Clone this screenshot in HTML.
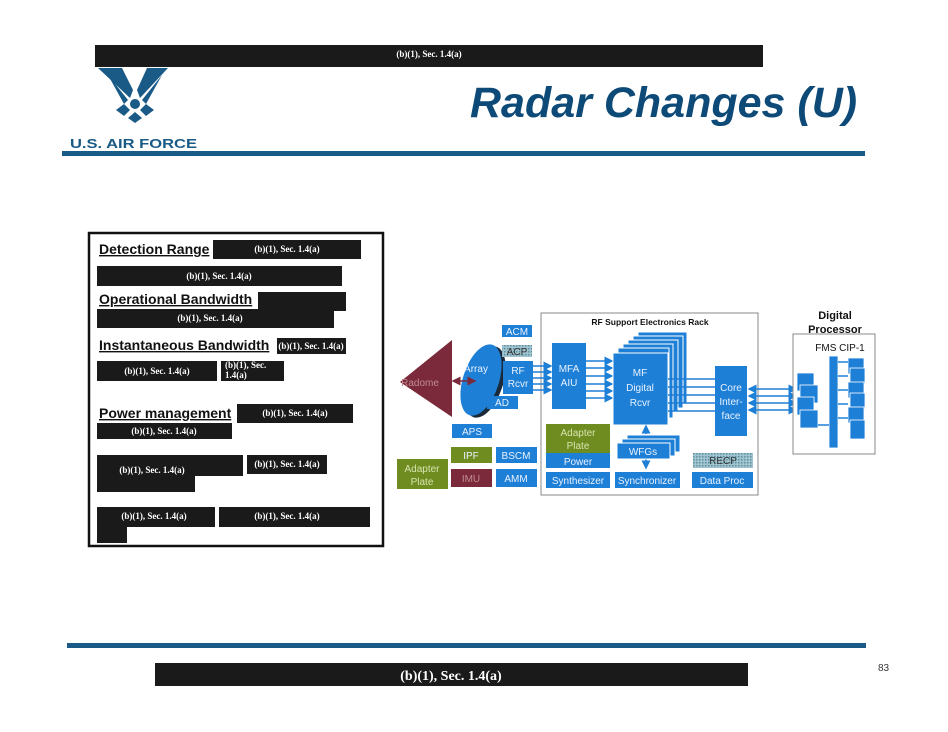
<!DOCTYPE html>
<html><head><meta charset="utf-8"><style>
html,body{margin:0;padding:0;background:#fff;}
svg{display:block;}
.r{font-family:"Liberation Serif",serif;font-weight:bold;fill:#fff;font-size:9px;}
.h{font-family:"Liberation Sans",sans-serif;font-weight:bold;font-size:14px;fill:#111;text-decoration:underline;}
.w{font-family:"Liberation Sans",sans-serif;font-size:10px;fill:#e8f2ff;text-anchor:middle;}
</style></head><body>
<svg width="948" height="732" viewBox="0 0 948 732" xmlns="http://www.w3.org/2000/svg">
<defs>
<pattern id="hat" width="3" height="3" patternUnits="userSpaceOnUse"><rect width="3" height="3" fill="#9fc4cf"/><rect width="1.5" height="1.5" fill="#5f8f9f"/></pattern>
<marker id="ar" markerWidth="6" markerHeight="6" refX="5" refY="3" orient="auto"><path d="M0,0 L6,3 L0,6z" fill="#1e7fd6"/></marker>
<marker id="al" markerWidth="6" markerHeight="6" refX="1" refY="3" orient="auto"><path d="M6,0 L0,3 L6,6z" fill="#1e7fd6"/></marker>
<marker id="mr" markerWidth="6" markerHeight="6" refX="5" refY="3" orient="auto"><path d="M0,0 L6,3 L0,6z" fill="#7a2a3a"/></marker>
<marker id="ml" markerWidth="6" markerHeight="6" refX="1" refY="3" orient="auto"><path d="M6,0 L0,3 L6,6z" fill="#7a2a3a"/></marker>
</defs>
<rect x="95" y="45" width="668" height="22" fill="#1a1a1a"/>
<text x="429" y="57" class="r" text-anchor="middle">(b)(1), Sec. 1.4(a)</text>
<g fill="#1a5a86">
<path d="M98,68 L122,68 L133,90 L130,98 Z"/>
<path d="M168,68 L147,68 L137,90 L140,98 Z"/>
<path d="M108,75 L128,100 L124,104 Z"/>
<path d="M162,75 L142,100 L146,104 Z"/>
<circle cx="135" cy="104" r="5"/>
<path d="M116,110 L124,104 L130,110 L124,116 Z"/>
<path d="M154,110 L146,104 L140,110 L146,116 Z"/>
<path d="M135,112 L142,118 L135,123 L128,118 Z"/>
</g>
<text x="70" y="148" font-family="Liberation Sans,sans-serif" font-weight="bold" font-size="13" fill="#1a5a86" textLength="127" lengthAdjust="spacingAndGlyphs">U.S. AIR FORCE</text>
<text x="470" y="117" font-family="Liberation Sans,sans-serif" font-weight="bold" font-style="italic" font-size="43" fill="#0d4a78">Radar Changes (U)</text>
<rect x="62" y="151" width="803" height="5" fill="#1a5a86"/>
<rect x="89" y="233" width="294" height="313" fill="none" stroke="#111" stroke-width="2.5"/>
<g fill="#1a1a1a">
<rect x="213" y="240" width="148" height="19"/><rect x="97" y="266" width="245" height="20"/>
<rect x="258" y="292" width="88" height="19"/><rect x="97" y="309" width="237" height="19"/>
<rect x="277" y="338" width="69" height="16"/><rect x="97" y="361" width="120" height="20"/><rect x="221" y="361" width="63" height="20"/>
<rect x="237" y="404" width="116" height="19"/><rect x="97" y="423" width="135" height="16"/>
<rect x="97" y="455" width="146" height="21"/><rect x="97" y="455" width="98" height="37"/><rect x="247" y="455" width="80" height="19"/>
<rect x="97" y="507" width="118" height="20"/><rect x="97" y="507" width="30" height="36"/><rect x="219" y="507" width="151" height="20"/>
</g>
<text x="99" y="254" class="h">Detection Range</text>
<text x="99" y="304" class="h">Operational Bandwidth</text>
<text x="99" y="350" class="h">Instantaneous Bandwidth</text>
<text x="99" y="418" class="h">Power management</text>
<g class="r" text-anchor="middle">
<text x="287" y="252">(b)(1), Sec. 1.4(a)</text>
<text x="219" y="279">(b)(1), Sec. 1.4(a)</text>
<text x="210" y="321">(b)(1), Sec. 1.4(a)</text>
<text x="311" y="349">(b)(1), Sec. 1.4(a)</text>
<text x="157" y="374">(b)(1), Sec. 1.4(a)</text>
<text x="225" y="368" text-anchor="start">(b)(1), Sec.</text>
<text x="225" y="378" text-anchor="start">1.4(a)</text>
<text x="295" y="416">(b)(1), Sec. 1.4(a)</text>
<text x="164" y="434">(b)(1), Sec. 1.4(a)</text>
<text x="152" y="473">(b)(1), Sec. 1.4(a)</text>
<text x="287" y="467">(b)(1), Sec. 1.4(a)</text>
<text x="154" y="519">(b)(1), Sec. 1.4(a)</text>
<text x="287" y="519">(b)(1), Sec. 1.4(a)</text>
</g>
<g font-family="Liberation Sans,sans-serif">
<polygon points="400,382 452,340 452,417" fill="#7a2a3a"/>
<text x="420" y="386" font-size="10" fill="#c08a90" text-anchor="middle">Radome</text>
<ellipse cx="485" cy="382" rx="18" ry="37" transform="rotate(18 485 382)" fill="#1a2a3a"/>
<ellipse cx="481" cy="380" rx="18" ry="37" transform="rotate(18 481 380)" fill="#1e7fd6"/>
<text x="476" y="372" class="w">Array</text>
<line x1="453" y1="381" x2="475" y2="381" stroke="#7a2a3a" stroke-width="1.5" marker-start="url(#ml)" marker-end="url(#mr)"/>
<rect x="502" y="325" width="30" height="12" fill="#1e7fd6"/><text x="517" y="335" class="w">ACM</text>
<rect x="502" y="345" width="30" height="12" fill="url(#hat)"/><text x="517" y="355" class="w" style="fill:#333">ACP</text>
<rect x="503" y="361" width="30" height="33" fill="#1e7fd6"/><text x="518" y="374" class="w">RF</text><text x="518" y="387" class="w">Rcvr</text>
<rect x="487" y="396" width="31" height="13" fill="#1e7fd6"/><text x="502" y="406" class="w">AD</text>
<rect x="452" y="424" width="40" height="14" fill="#1e7fd6"/><text x="472" y="435" class="w">APS</text>
<rect x="451" y="447" width="41" height="16" fill="#6e8c1f"/><text x="471" y="459" class="w">IPF</text>
<rect x="496" y="447" width="41" height="16" fill="#1e7fd6"/><text x="516" y="459" class="w">BSCM</text>
<rect x="451" y="469" width="41" height="18" fill="#7a2a3a"/><text x="471" y="482" class="w" style="fill:#c08a90">IMU</text>
<rect x="496" y="469" width="41" height="18" fill="#1e7fd6"/><text x="516" y="482" class="w">AMM</text>
<rect x="397" y="459" width="51" height="30" fill="#6e8c1f"/><text x="422" y="472" class="w" style="fill:#d8e4b0">Adapter</text><text x="422" y="485" class="w" style="fill:#d8e4b0">Plate</text>
<rect x="541" y="313" width="217" height="182" fill="#fff" stroke="#888" stroke-width="1"/>
<text x="650" y="325" font-size="8.5" font-weight="bold" text-anchor="middle" fill="#111">RF Support Electronics Rack</text>
<g stroke="#1e7fd6" stroke-width="1.5" marker-end="url(#ar)">
<line x1="533" y1="366" x2="551" y2="366"/><line x1="533" y1="372" x2="551" y2="372"/><line x1="533" y1="378" x2="551" y2="378"/><line x1="533" y1="384" x2="551" y2="384"/><line x1="533" y1="390" x2="551" y2="390"/>
<line x1="586" y1="361" x2="612" y2="361"/><line x1="586" y1="368" x2="612" y2="368"/><line x1="586" y1="376" x2="612" y2="376"/><line x1="586" y1="384" x2="612" y2="384"/><line x1="586" y1="391" x2="612" y2="391"/><line x1="586" y1="398" x2="612" y2="398"/>
</g>
<rect x="552" y="343" width="34" height="66" fill="#1e7fd6"/><text x="569" y="372" class="w">MFA</text><text x="569" y="386" class="w">AIU</text>
<g fill="#1e7fd6" stroke="#fff" stroke-width="1">
<rect x="638" y="332" width="49" height="72"/><rect x="633" y="336" width="50" height="72"/><rect x="628" y="340" width="50" height="72"/><rect x="623" y="344" width="50" height="74"/><rect x="618" y="348" width="51" height="75"/><rect x="613" y="353" width="55" height="72"/>
</g>
<text x="640" y="376" class="w">MF</text><text x="640" y="391" class="w">Digital</text><text x="640" y="406" class="w">Rcvr</text>
<g stroke="#1e7fd6" stroke-width="1.5">
<line x1="668" y1="379" x2="715" y2="379"/><line x1="668" y1="387" x2="715" y2="387"/><line x1="668" y1="395" x2="715" y2="395"/><line x1="668" y1="403" x2="715" y2="403"/><line x1="668" y1="411" x2="715" y2="411"/>
</g>
<rect x="715" y="366" width="32" height="70" fill="#1e7fd6"/><text x="731" y="391" class="w">Core</text><text x="731" y="405" class="w">Inter-</text><text x="731" y="419" class="w">face</text>
<rect x="546" y="424" width="64" height="29" fill="#6e8c1f"/><text x="578" y="436" class="w" style="fill:#d8e4b0">Adapter</text><text x="578" y="449" class="w" style="fill:#d8e4b0">Plate</text>
<rect x="546" y="453" width="64" height="15" fill="#1e7fd6"/><text x="578" y="465" class="w">Power</text>
<line x1="646" y1="434" x2="646" y2="426" stroke="#1e7fd6" stroke-width="1.5" marker-end="url(#ar)"/>
<line x1="646" y1="458" x2="646" y2="468" stroke="#1e7fd6" stroke-width="1.5" marker-end="url(#ar)"/>
<g fill="#1e7fd6" stroke="#fff" stroke-width="1"><rect x="627" y="435" width="53" height="17"/><rect x="622" y="439" width="53" height="17"/><rect x="617" y="443" width="53" height="16"/></g>
<text x="643" y="455" class="w">WFGs</text>
<rect x="693" y="453" width="60" height="15" fill="url(#hat)"/><text x="723" y="464" class="w" style="fill:#333">RECP</text>
<rect x="546" y="472" width="64" height="16" fill="#1e7fd6"/><text x="578" y="484" class="w">Synthesizer</text>
<rect x="615" y="472" width="65" height="16" fill="#1e7fd6"/><text x="647" y="484" class="w">Synchronizer</text>
<rect x="692" y="472" width="61" height="16" fill="#1e7fd6"/><text x="722" y="484" class="w">Data Proc</text>
<g stroke="#1e7fd6" stroke-width="1.5" marker-start="url(#al)" marker-end="url(#ar)">
<line x1="749" y1="389" x2="796" y2="389"/><line x1="749" y1="396" x2="796" y2="396"/><line x1="749" y1="403" x2="796" y2="403"/><line x1="749" y1="410" x2="796" y2="410"/>
</g>
<text x="835" y="319" font-size="11" font-weight="bold" text-anchor="middle" fill="#111">Digital</text>
<text x="835" y="333" font-size="11" font-weight="bold" text-anchor="middle" fill="#111">Processor</text>
<rect x="793" y="334" width="82" height="120" fill="#fff" stroke="#888"/>
<text x="840" y="351" font-size="10" text-anchor="middle" fill="#111">FMS CIP-1</text>
<g fill="#1e7fd6" stroke="#fff" stroke-width="0.8">
<rect x="829" y="356" width="9" height="92"/>
<rect x="797" y="373" width="17" height="18"/><rect x="800" y="385" width="18" height="18"/><rect x="797" y="397" width="17" height="18"/><rect x="800" y="410" width="18" height="18"/>
<rect x="848" y="358" width="16" height="16"/><rect x="850" y="368" width="15" height="16"/><rect x="848" y="382" width="16" height="16"/><rect x="850" y="393" width="15" height="16"/><rect x="848" y="407" width="16" height="16"/><rect x="850" y="420" width="15" height="19"/>
</g>
<g stroke="#1e7fd6" stroke-width="1.5"><line x1="818" y1="425" x2="829" y2="425"/><line x1="838" y1="362" x2="848" y2="362"/><line x1="838" y1="376" x2="848" y2="376"/><line x1="838" y1="390" x2="848" y2="390"/><line x1="838" y1="404" x2="848" y2="404"/><line x1="838" y1="418" x2="848" y2="418"/></g>
</g>
<rect x="67" y="643" width="799" height="5" fill="#1a5a86"/>
<rect x="155" y="663" width="593" height="23" fill="#1a1a1a"/>
<text x="451" y="680" class="r" style="font-size:14px" text-anchor="middle">(b)(1), Sec. 1.4(a)</text>
<text x="878" y="671" font-family="Liberation Sans,sans-serif" font-size="10" fill="#333">83</text>
</svg>
</body></html>
